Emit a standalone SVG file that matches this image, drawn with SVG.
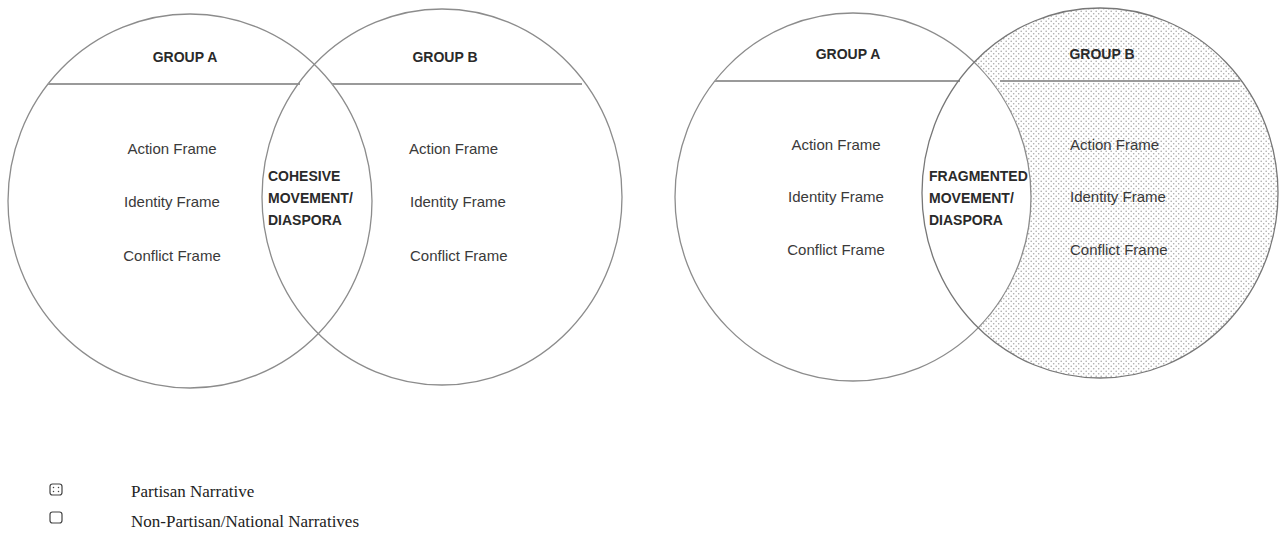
<svg xmlns="http://www.w3.org/2000/svg" width="1280" height="553" viewBox="0 0 1280 553">
<style>
.c{fill:none;stroke:#8c8c8c;stroke-width:1.3}
.ln{stroke:#9a9a9a;stroke-width:2}
.h{font-family:"Liberation Sans",Arial,sans-serif;font-weight:bold;font-size:14px;fill:#2a2a2a}
.t{font-family:"Liberation Sans",Arial,sans-serif;font-size:15px;fill:#3a3a3a}
.m{text-anchor:middle}
.lg{font-family:"Liberation Serif","Times New Roman",serif;font-size:17px;fill:#222}
</style>
<defs>
<pattern id="dots" width="5" height="5" patternUnits="userSpaceOnUse">
<rect width="5" height="5" fill="#fff"/>
<circle cx="1.2" cy="1.2" r="0.8" fill="#a8a8a8"/>
<circle cx="3.7" cy="3.7" r="0.8" fill="#a8a8a8"/>
</pattern>
</defs>
<rect width="1280" height="553" fill="#fff"/>

<g id="left-venn">
<g id="left-groupA">
<ellipse class="c" cx="190" cy="201" rx="182" ry="187"/>
<line class="ln" x1="48" y1="84" x2="300" y2="84"/>
<text class="h m" x="185" y="62">GROUP A</text>
<text class="t m" x="172" y="154">Action Frame</text>
<text class="t m" x="172" y="207">Identity Frame</text>
<text class="t m" x="172" y="261">Conflict Frame</text>
</g>
<g id="left-groupB">
<ellipse class="c" cx="442" cy="197" rx="180" ry="188"/>
<line class="ln" x1="332" y1="84" x2="582" y2="84"/>
<text class="h m" x="445" y="62">GROUP B</text>
<text class="t" x="409" y="154">Action Frame</text>
<text class="t" x="410" y="207">Identity Frame</text>
<text class="t" x="410" y="261">Conflict Frame</text>
</g>
<g id="left-overlap">
<text class="h" x="268" y="181">COHESIVE</text>
<text class="h" x="268" y="203">MOVEMENT/</text>
<text class="h" x="268" y="225">DIASPORA</text>
</g>
</g>

<g id="right-venn">
<g id="right-groupB-fill">
<ellipse cx="1100" cy="193" rx="178" ry="185" fill="url(#dots)"/>
<ellipse cx="853" cy="197" rx="178" ry="184" fill="#fff"/>
</g>
<g id="right-groupA">
<ellipse class="c" cx="853" cy="197" rx="178" ry="184"/>
<line class="ln" x1="715" y1="81" x2="960" y2="81"/>
<text class="h m" x="848" y="59">GROUP A</text>
<text class="t m" x="836" y="150">Action Frame</text>
<text class="t m" x="836" y="202">Identity Frame</text>
<text class="t m" x="836" y="255">Conflict Frame</text>
</g>
<g id="right-groupB">
<ellipse class="c" cx="1100" cy="193" rx="178" ry="185" style="stroke:#777"/>
<line class="ln" x1="1000" y1="81" x2="1240" y2="81"/>
<text class="h m" x="1102" y="59">GROUP B</text>
<text class="t" x="1070" y="150">Action Frame</text>
<text class="t" x="1070" y="202">Identity Frame</text>
<text class="t" x="1070" y="255">Conflict Frame</text>
</g>
<g id="right-overlap">
<text class="h" x="929" y="181">FRAGMENTED</text>
<text class="h" x="929" y="203">MOVEMENT/</text>
<text class="h" x="929" y="225">DIASPORA</text>
</g>
</g>

<g id="legend">
<g id="legend-partisan">
<rect x="50" y="484" width="12" height="11" rx="2.5" fill="#fff" stroke="#444" stroke-width="1.2"/>
<circle cx="53.5" cy="487.5" r="0.75" fill="#444"/>
<circle cx="58.5" cy="487.5" r="0.75" fill="#444"/>
<circle cx="53.5" cy="491.5" r="0.75" fill="#444"/>
<circle cx="58.5" cy="491.5" r="0.75" fill="#444"/>
<text class="lg" x="131" y="497">Partisan Narrative</text>
</g>
<g id="legend-nonpartisan">
<rect x="50" y="512" width="12" height="11" rx="2.5" fill="#fff" stroke="#444" stroke-width="1.2"/>
<text class="lg" x="131" y="527">Non-Partisan/National Narratives</text>
</g>
</g>
<g id="connectors"/>
</svg>
